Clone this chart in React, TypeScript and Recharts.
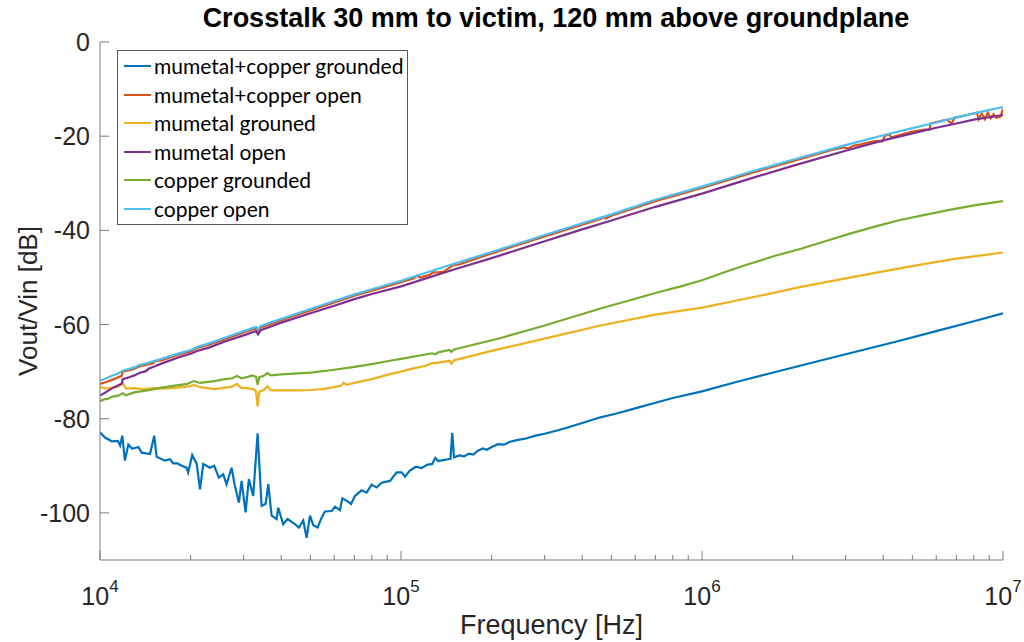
import React from 'react';
import { LineChart, Line, XAxis, YAxis, Legend } from 'recharts';

// frequency [Hz], Vout/Vin [dB]
const mumetalCopperGrounded: [number, number][] = [
  [1.0e4, -82.9], [1.039e4, -84.0], [1.094e4, -84.8], [1.145e4, -84.7], [1.166e4, -85.7],
  [1.186e4, -83.6], [1.21e4, -88.9], [1.242e4, -85.5], [1.28e4, -86.4], [1.341e4, -86.0],
  [1.376e4, -87.2], [1.466e4, -87.5], [1.514e4, -83.6], [1.542e4, -88.1], [1.644e4, -88.9],
  [1.709e4, -88.6], [1.752e4, -89.5], [1.811e4, -89.5], [1.868e4, -90.0], [1.94e4, -90.4],
  [1.963e4, -91.4], [2.025e4, -87.7], [2.096e4, -89.6], [2.149e4, -95.0], [2.203e4, -89.6],
  [2.32e4, -90.4], [2.395e4, -90.0], [2.483e4, -92.5], [2.566e4, -91.8], [2.634e4, -93.9],
  [2.736e4, -90.4], [2.807e4, -94.3], [2.894e4, -97.8], [2.954e4, -93.2], [3.045e4, -99.9],
  [3.123e4, -92.8], [3.228e4, -96.4], [3.339e4, -83.1], [3.443e4, -98.5], [3.55e4, -98.1],
  [3.622e4, -93.9], [3.717e4, -100.6], [3.862e4, -101.3], [3.909e4, -98.9], [4.061e4, -102.4],
  [4.201e4, -101.3], [4.442e4, -102.4], [4.58e4, -103.1], [4.735e4, -101.6], [4.858e4, -105.3],
  [4.985e4, -100.6], [5.112e4, -102.6], [5.284e4, -103.1], [5.449e4, -101.0], [5.589e4, -99.7],
  [5.887e4, -99.6], [6.036e4, -98.7], [6.271e4, -99.4], [6.383e4, -96.9], [6.597e4, -97.4],
  [6.822e4, -98.1], [7.034e4, -96.4], [7.398e4, -95.2], [7.686e4, -95.7], [7.985e4, -94.0],
  [8.297e4, -94.6], [8.62e4, -93.6], [9.193e4, -93.2], [9.676e4, -91.4], [1.005e5, -91.4],
  [1.031e5, -92.3], [1.07e5, -91.0], [1.12e5, -90.2], [1.17e5, -90.5], [1.22e5, -89.8],
  [1.27e5, -89.6], [1.3e5, -88.3], [1.33e5, -89.0], [1.38e5, -88.8], [1.43e5, -88.6],
  [1.46e5, -88.5], [1.48e5, -83.0], [1.5e5, -88.2], [1.56e5, -87.8], [1.62e5, -88.0],
  [1.68e5, -87.4], [1.74e5, -87.6], [1.8e5, -86.8], [1.87e5, -86.3], [1.93e5, -86.6],
  [2.0e5, -86.0], [2.1e5, -85.4], [2.2e5, -85.5], [2.3e5, -84.9], [2.45e5, -84.5],
  [2.6e5, -84.2], [2.8e5, -83.6], [3.0e5, -83.2], [3.3e5, -82.5], [3.6e5, -81.8],
  [4.0e5, -80.9], [4.6e5, -79.7], [5.2e5, -78.9], [6.0e5, -77.8], [7.0e5, -76.6],
  [8.0e5, -75.6], [1.0e6, -74.2], [1.3e6, -72.2], [1.7e6, -70.3], [2.1e6, -68.8],
  [3.0e6, -66.3], [4.5e6, -63.5], [6.0e6, -61.4], [8.0e6, -59.3], [1.0e7, -57.6],
];

const mumetalCopperOpen: [number, number][] = [
  [1.0e4, -72.6], [1.05e4, -72.2], [1.1e4, -71.7], [1.15e4, -71.2], [1.18e4, -70.9],
  [1.19e4, -70.0], [1.25e4, -69.7], [1.3e4, -69.4], [1.35e4, -68.9], [1.42e4, -68.6],
  [1.5e4, -68.2], [1.52e4, -67.8], [1.6e4, -67.6], [1.75e4, -66.8], [1.9e4, -66.1],
  [2.0e4, -65.7], [2.1e4, -65.0], [2.3e4, -64.3], [2.6e4, -63.1], [3.0e4, -61.7],
  [3.3e4, -60.8], [3.35e4, -61.3], [3.42e4, -60.6], [3.7e4, -59.8], [4.0e4, -59.1],
  [5.0e4, -57.0], [6.0e4, -55.3], [7.0e4, -53.9], [8.0e4, -52.8], [1.0e5, -51.0],
  [1.1e5, -50.2], [1.13e5, -49.6], [1.16e5, -50.0], [1.25e5, -49.4], [1.28e5, -48.9],
  [1.33e5, -48.9], [1.38e5, -48.8], [1.45e5, -47.9], [1.5e5, -47.3], [1.55e5, -47.3],
  [2.0e5, -44.9], [3.0e5, -41.3], [4.0e5, -38.8], [4.6e5, -37.6], [4.7e5, -37.2],
  [4.8e5, -37.5], [5.0e5, -36.9], [7.0e5, -33.8], [1.0e6, -31.0], [1.5e6, -27.6],
  [2.0e6, -25.3], [2.7e6, -22.9], [2.95e6, -22.4], [3.05e6, -22.6], [3.2e6, -22.0],
  [3.35e6, -21.8], [3.53e6, -21.4], [3.8e6, -21.0], [3.98e6, -21.1], [4.05e6, -19.9],
  [4.2e6, -19.6], [4.25e6, -20.3], [4.44e6, -19.9], [5.0e6, -19.0], [5.5e6, -18.6],
  [5.7e6, -18.6], [5.75e6, -17.3], [6.5e6, -16.5], [6.75e6, -17.3], [6.9e6, -16.1],
  [7.5e6, -15.6], [8.2e6, -15.0], [8.3e6, -16.4], [8.5e6, -15.2], [8.7e6, -16.4],
  [8.9e6, -15.0], [9.1e6, -16.2], [9.3e6, -15.3], [9.5e6, -16.1], [9.8e6, -15.9],
  [1.0e7, -14.2],
];

const mumetalGrounded: [number, number][] = [
  [1.0e4, -73.3], [1.05e4, -73.6], [1.1e4, -73.4], [1.15e4, -73.2], [1.19e4, -72.4],
  [1.22e4, -73.6], [1.3e4, -73.5], [1.4e4, -73.7], [1.5e4, -73.5], [1.65e4, -73.6],
  [1.8e4, -73.4], [1.95e4, -73.2], [2.05e4, -72.8], [2.15e4, -73.3], [2.4e4, -73.7],
  [2.6e4, -73.4], [2.75e4, -73.2], [2.85e4, -72.6], [2.95e4, -73.5], [3.1e4, -73.5],
  [3.25e4, -73.8], [3.3e4, -74.2], [3.34e4, -77.4], [3.38e4, -74.3], [3.5e4, -73.9],
  [3.6e4, -73.1], [3.7e4, -74.0], [4.0e4, -74.0], [4.6e4, -74.0], [5.0e4, -73.9],
  [5.5e4, -73.7], [6.0e4, -73.3], [6.3e4, -73.0], [6.45e4, -72.4], [6.6e4, -72.8],
  [7.0e4, -72.4], [8.0e4, -71.6], [9.0e4, -70.7], [1.0e5, -70.0], [1.1e5, -69.3],
  [1.2e5, -68.8], [1.27e5, -68.2], [1.3e5, -68.2], [1.45e5, -67.7], [1.47e5, -68.3],
  [1.5e5, -67.6], [2.0e5, -65.6], [3.0e5, -63.0], [4.6e5, -60.2], [7.0e5, -57.9],
  [1.0e6, -56.4], [1.5e6, -54.1], [2.13e6, -52.0], [3.0e6, -50.2], [4.0e6, -48.7],
  [5.5e6, -47.1], [7.0e6, -46.0], [8.5e6, -45.3], [1.0e7, -44.7],
];

const mumetalOpen: [number, number][] = [
  [1.0e4, -75.1], [1.05e4, -74.3], [1.1e4, -73.5], [1.15e4, -72.9], [1.18e4, -72.6],
  [1.19e4, -71.6], [1.25e4, -71.2], [1.3e4, -70.8], [1.35e4, -70.3], [1.42e4, -69.9],
  [1.45e4, -69.4], [1.5e4, -69.0], [1.6e4, -68.3], [1.8e4, -67.1], [2.0e4, -66.2],
  [2.1e4, -65.6], [2.3e4, -64.9], [2.6e4, -63.6], [3.0e4, -62.3], [3.3e4, -61.4],
  [3.35e4, -62.1], [3.42e4, -61.2], [4.0e4, -59.6], [5.0e4, -57.6], [6.0e4, -56.0],
  [7.0e4, -54.6], [8.0e4, -53.5], [1.0e5, -51.9], [1.5e5, -48.3], [2.0e5, -45.9],
  [3.0e5, -42.3], [4.0e5, -39.8], [5.0e5, -37.9], [7.0e5, -35.0], [1.0e6, -32.2],
  [1.5e6, -28.7], [2.0e6, -26.3], [3.0e6, -23.1], [4.0e6, -20.9], [5.0e6, -19.4],
  [6.0e6, -18.2], [7.0e6, -17.3], [8.0e6, -16.5], [1.0e7, -15.5],
];

const copperGrounded: [number, number][] = [
  [1.0e4, -76.3], [1.03e4, -75.9], [1.06e4, -75.8], [1.1e4, -75.3], [1.15e4, -75.1],
  [1.19e4, -74.6], [1.22e4, -75.0], [1.3e4, -74.4], [1.4e4, -74.1], [1.5e4, -73.8],
  [1.6e4, -73.4], [1.8e4, -72.9], [1.95e4, -72.6], [2.05e4, -72.0], [2.15e4, -72.4],
  [2.4e4, -72.0], [2.6e4, -71.6], [2.75e4, -71.4], [2.85e4, -70.9], [2.95e4, -71.4],
  [3.1e4, -71.1], [3.2e4, -70.8], [3.3e4, -71.1], [3.34e4, -72.8], [3.38e4, -71.2],
  [3.5e4, -70.9], [3.6e4, -70.3], [3.7e4, -70.8], [4.0e4, -70.6], [5.0e4, -70.2],
  [6.0e4, -69.6], [7.0e4, -69.0], [8.0e4, -68.4], [9.0e4, -67.8], [1.0e5, -67.3],
  [1.27e5, -66.1], [1.3e5, -66.3], [1.33e5, -65.9], [1.45e5, -65.4], [1.47e5, -65.8],
  [1.5e5, -65.3], [2.13e5, -62.9], [3.0e5, -60.2], [4.6e5, -56.6], [5.5e5, -55.2],
  [7.0e5, -53.3], [8.5e5, -51.9], [1.0e6, -50.6], [1.2e6, -48.8], [1.44e6, -47.1],
  [1.75e6, -45.4], [2.13e6, -43.9], [2.6e6, -42.2], [3.1e6, -40.7], [3.8e6, -39.1],
  [4.55e6, -37.8], [5.5e6, -36.7], [6.7e6, -35.6], [8.2e6, -34.6], [1.0e7, -33.8],
];

const copperOpen: [number, number][] = [
  [1.0e4, -71.9], [1.05e4, -71.4], [1.1e4, -70.8], [1.15e4, -70.4], [1.19e4, -69.8],
  [1.25e4, -69.4], [1.3e4, -69.1], [1.35e4, -68.6], [1.42e4, -68.3], [1.5e4, -67.8],
  [1.6e4, -67.3], [1.75e4, -66.5], [1.9e4, -65.8], [2.0e4, -65.4], [2.1e4, -64.8],
  [2.3e4, -64.0], [2.6e4, -62.8], [3.0e4, -61.4], [3.3e4, -60.5], [3.35e4, -61.0],
  [3.42e4, -60.3], [3.7e4, -59.5], [4.0e4, -58.8], [5.0e4, -56.7], [6.0e4, -55.0],
  [7.0e4, -53.6], [8.0e4, -52.5], [1.0e5, -50.7], [1.5e5, -47.1], [2.0e5, -44.6],
  [3.0e5, -41.0], [4.0e5, -38.5], [5.0e5, -36.6], [7.0e5, -33.5], [1.0e6, -30.7],
  [1.5e6, -27.3], [2.0e6, -25.0], [3.0e6, -21.9], [4.0e6, -19.8], [5.0e6, -18.3],
  [6.0e6, -17.1], [7.0e6, -16.0], [8.5e6, -14.8], [1.0e7, -13.8],
];

const xTicks = [
  1e4, 2e4, 3e4, 4e4, 5e4, 6e4, 7e4, 8e4, 9e4,
  1e5, 2e5, 3e5, 4e5, 5e5, 6e5, 7e5, 8e5, 9e5,
  1e6, 2e6, 3e6, 4e6, 5e6, 6e6, 7e6, 8e6, 9e6, 1e7,
];
const yTicks = [0, -20, -40, -60, -80, -100];

const series = [
  { name: 'mumetal+copper grounded', color: '#0072BD', points: mumetalCopperGrounded },
  { name: 'mumetal+copper open', color: '#D95319', points: mumetalCopperOpen },
  { name: 'mumetal grouned', color: '#EDB120', points: mumetalGrounded },
  { name: 'mumetal open', color: '#7E2F8E', points: mumetalOpen },
  { name: 'copper grounded', color: '#77AC30', points: copperGrounded },
  { name: 'copper open', color: '#4DBEEE', points: copperOpen },
];

const AXIS = '#7a7a7a';
const TEXT = '#262626';
const FONT = '"Liberation Sans", Arial, Helvetica, sans-serif';

const isMajor = (v: number) => Math.abs(Math.log10(v) - Math.round(Math.log10(v))) < 1e-6;

const BottomTick = (props: any) => {
  const { x, y, payload } = props;
  const v = payload.value;
  const major = isMajor(v);
  return (
    <g>
      <line x1={x} x2={x} y1={y} y2={y - (major ? 9 : 5)} stroke={AXIS} />
      {major && (
        <text x={x} y={y + 45} textAnchor="middle" fill={TEXT} fontFamily={FONT} fontSize={25}>
          <tspan>10</tspan>
          <tspan dy={-13} fontSize={17}>{Math.round(Math.log10(v))}</tspan>
        </text>
      )}
    </g>
  );
};

const TopTick = (props: any) => {
  const { x, y, payload } = props;
  const major = isMajor(payload.value);
  return <line x1={x} x2={x} y1={y} y2={y + (major ? 9 : 5)} stroke={AXIS} />;
};

const LeftTick = (props: any) => {
  const { x, y, payload } = props;
  return (
    <g>
      <line x1={x} x2={x + 9} y1={y} y2={y} stroke={AXIS} />
      <text x={x - 10} y={y} dy="0.36em" textAnchor="end" fill={TEXT} fontFamily={FONT} fontSize={25}>
        {payload.value}
      </text>
    </g>
  );
};

const RightTick = (props: any) => {
  const { x, y } = props;
  return <line x1={x} x2={x - 9} y1={y} y2={y} stroke={AXIS} />;
};

const LegendBox = () => (
  <div
    style={{
      width: 291,
      height: 175,
      border: '1px solid #5a5a5a',
      background: '#fff',
      boxSizing: 'border-box',
      paddingTop: 1,
    }}
  >
    {series.map(s => (
      <div key={s.name} style={{ position: 'relative', height: 28.5 }}>
        <div
          style={{
            position: 'absolute',
            left: 6,
            top: 13,
            width: 27,
            height: 2,
            background: s.color,
          }}
        />
        <div
          style={{
            position: 'absolute',
            left: 36,
            top: 0,
            lineHeight: '28px',
            fontFamily: 'Lato, "Open Sans", sans-serif',
            fontSize: 21,
            color: '#000',
            whiteSpace: 'nowrap',
          }}
        >
          {s.name}
        </div>
      </div>
    ))}
  </div>
);

const App: React.FC = () => {
  return (
    <div style={{ position: 'absolute', left: 0, top: 0, width: 1024, height: 642, background: '#fff' }}>
      <LineChart width={1024} height={642} margin={{ top: 42, right: 21, bottom: 22, left: 40 }}>
        <XAxis
          dataKey="f"
          type="number"
          scale="log"
          domain={[1e4, 1e7]}
          ticks={xTicks}
          interval={0}
          allowDataOverflow
          height={60}
          tickSize={0}
          tickMargin={0}
          tick={<BottomTick />}
          axisLine={{ stroke: AXIS }}
        />
        <XAxis
          xAxisId="top"
          orientation="top"
          dataKey="f"
          type="number"
          scale="log"
          domain={[1e4, 1e7]}
          ticks={xTicks}
          interval={0}
          allowDataOverflow
          height={0}
          tickSize={0}
          tickMargin={0}
          tick={<TopTick />}
          axisLine={{ stroke: AXIS }}
        />
        <YAxis
          type="number"
          domain={[-110, 0]}
          ticks={yTicks}
          interval={0}
          allowDataOverflow
          width={60}
          tickSize={0}
          tickMargin={0}
          tick={<LeftTick />}
          axisLine={{ stroke: AXIS }}
        />
        <YAxis
          yAxisId="right"
          orientation="right"
          type="number"
          domain={[-110, 0]}
          ticks={yTicks}
          interval={0}
          allowDataOverflow
          width={0}
          tickSize={0}
          tickMargin={0}
          tick={<RightTick />}
          axisLine={{ stroke: AXIS }}
        />
        <Legend
          layout="vertical"
          align="center"
          verticalAlign="middle"
          content={() => <LegendBox />}
          wrapperStyle={{ left: 117, top: 50, width: 291 }}
        />
        {series.map(s => (
          <Line
            key={s.name}
            name={s.name}
            data={s.points.map(([f, v]) => ({ f, v }))}
            dataKey="v"
            stroke={s.color}
            strokeWidth={2.2}
            dot={false}
            activeDot={false}
            type="linear"
            isAnimationActive={false}
          />
        ))}
      </LineChart>
      <div
        style={{
          position: 'absolute',
          left: 0,
          top: 4,
          width: 1112,
          textAlign: 'center',
          fontFamily: FONT,
          fontWeight: 'bold',
          fontSize: 27,
          lineHeight: '28px',
          color: '#000',
          whiteSpace: 'nowrap',
        }}
      >
        Crosstalk 30 mm to victim, 120 mm above groundplane
      </div>
      <div
        style={{
          position: 'absolute',
          left: 0,
          top: 611,
          width: 1103,
          textAlign: 'center',
          fontFamily: FONT,
          fontSize: 27,
          lineHeight: '28px',
          color: TEXT,
        }}
      >
        Frequency [Hz]
      </div>
      <div
        style={{
          position: 'absolute',
          left: 28 - 150,
          top: 301 - 14,
          width: 300,
          textAlign: 'center',
          fontFamily: FONT,
          fontSize: 26,
          lineHeight: '28px',
          color: TEXT,
          transform: 'rotate(-90deg)',
          transformOrigin: '150px 14px',
        }}
      >
        Vout/Vin [dB]
      </div>
    </div>
  );
};

export default App;
